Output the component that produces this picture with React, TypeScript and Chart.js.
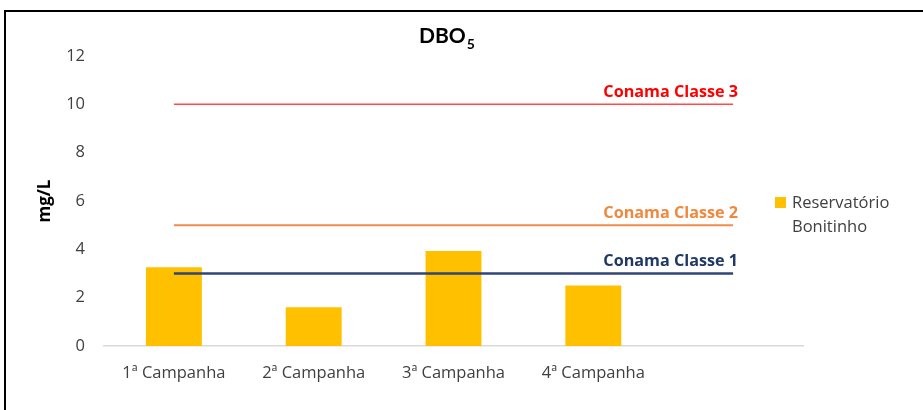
import React, { useEffect, useRef } from "react";
import { Chart, registerables } from "chart.js";

Chart.register(...registerables);

const categories = ["1ª Campanha", "2ª Campanha", "3ª Campanha", "4ª Campanha", ""];
const barValues = [3.26, 1.6, 3.93, 2.5, null];
const barLabel = "Reservatório Bonitinho";
const legendLines = ["Reservatório", "Bonitinho"];
const limitLabels = ["Conama Classe 1", "Conama Classe 2", "Conama Classe 3"];
const limitValues = [3, 5, 10];
const limitColors = ["#2F4577", "#F28B4B", "#FF4B4B"];
const limitTextColors = ["#1F3864", "#F0883E", "#FF0000"];
const limitWidths = [2.5, 2, 1.5];
const yTicks = { min: 0, max: 12, step: 2 };
const titleMain = "DBO";
const titleSub = "5";
const yTitle = "mg/L";

const FONT = "'Open Sans', Lato, sans-serif";
const TFONT = "Lato, 'Open Sans', sans-serif";

export default function App() {
  const ref = useRef<HTMLCanvasElement | null>(null);

  useEffect(() => {
    if (!ref.current) return;

    const decorPlugin = {
      id: "decor",
      beforeDraw(chart: any) {
        const ctx = chart.ctx;
        ctx.save();
        ctx.fillStyle = "#ffffff";
        ctx.fillRect(0, 0, chart.width, chart.height);
        ctx.restore();
      },
      afterDraw(chart: any) {
        const ctx = chart.ctx;
        const xs = chart.scales.x;
        const ys = chart.scales.y;
        ctx.save();
        // frame
        ctx.strokeStyle = "#000000";
        ctx.lineWidth = 2;
        ctx.beginPath();
        ctx.moveTo(5, chart.height);
        ctx.lineTo(5, 11);
        ctx.lineTo(chart.width, 11);
        ctx.stroke();

        // title with subscript
        ctx.fillStyle = "#000000";
        ctx.textBaseline = "alphabetic";
        ctx.font = `bold 21px ${TFONT}`;
        const wMain = ctx.measureText(titleMain).width;
        ctx.font = `bold 14px ${TFONT}`;
        const wSub = ctx.measureText(titleSub).width;
        const cx = (chart.chartArea.left + chart.chartArea.right) / 2 - 7;
        const startX = cx - (wMain + wSub) / 2;
        ctx.font = `bold 21px ${TFONT}`;
        ctx.textAlign = "left";
        ctx.fillText(titleMain, startX, 43);
        ctx.font = `bold 14px ${TFONT}`;
        ctx.fillText(titleSub, startX + wMain + 1, 49);

        // limit labels
        const endX = xs.getPixelForValue(categories.length - 1);
        ctx.font = `bold 16.2px ${FONT}`;
        ctx.textAlign = "right";
        ctx.textBaseline = "middle";
        limitValues.forEach((v, i) => {
          ctx.fillStyle = limitTextColors[i];
          ctx.fillText(limitLabels[i], endX + 5, ys.getPixelForValue(v) - 12);
        });

        // legend
        const lx = chart.chartArea.right - 28;
        const ly = 197;
        ctx.fillStyle = "#FFC000";
        ctx.fillRect(lx, ly, 11, 11);
        ctx.fillStyle = "#404040";
        ctx.font = `16.5px ${FONT}`;
        ctx.textAlign = "left";
        ctx.textBaseline = "middle";
        legendLines.forEach((t, i) => {
          ctx.fillText(t, lx + 17, ly + 6 + i * 24);
        });
        ctx.restore();
      },
    };

    const datasets: any[] = [
      {
        type: "bar",
        label: barLabel,
        data: barValues,
        backgroundColor: "#FFC000",
        categoryPercentage: 1,
        barPercentage: 0.4,
        order: 2,
      },
      ...limitValues.map((v, i) => ({
        type: "line",
        label: limitLabels[i],
        data: categories.map(() => v),
        borderColor: limitColors[i],
        borderWidth: limitWidths[i],
        pointRadius: 0,
        fill: false,
        order: 1,
      })),
    ];

    const chart = new Chart(ref.current, {
      type: "bar",
      data: { labels: categories, datasets },
      plugins: [decorPlugin],
      options: {
        animation: false,
        responsive: false,
        maintainAspectRatio: false,
        layout: { padding: { top: 56, right: 120, bottom: 0, left: 0 } },
        plugins: {
          legend: { display: false },
          title: { display: false },
          tooltip: { enabled: false },
        },
        scales: {
          x: {
            offset: true,
            grid: { display: false, drawTicks: false },
            border: { display: true, color: "#D9D9D9", width: 1.5 },
            ticks: {
              color: "#404040",
              font: { family: FONT, size: 16.5 },
              padding: 17,
              maxRotation: 0,
              autoSkip: false,
            },
            afterFit(scale: any) {
              scale.height = 64;
            },
          },
          y: {
            min: yTicks.min,
            max: yTicks.max,
            grid: { display: false, drawTicks: false },
            border: { display: false },
            ticks: {
              stepSize: yTicks.step,
              color: "#404040",
              font: { family: FONT, size: 16.5 },
              padding: 19,
            },
            title: {
              display: true,
              text: yTitle,
              color: "#000000",
              font: { family: FONT, size: 17, weight: "bold" },
              padding: { top: 35, bottom: 0 },
            },
            afterFit(scale: any) {
              scale.width = 104;
            },
          },
        },
      },
    });
    return () => chart.destroy();
  }, []);

  return (
    <div style={{ position: "absolute", left: 0, top: 0, width: 923, height: 410 }}>
      <canvas ref={ref} width={923} height={410} style={{ width: 923, height: 410 }} />
    </div>
  );
}
